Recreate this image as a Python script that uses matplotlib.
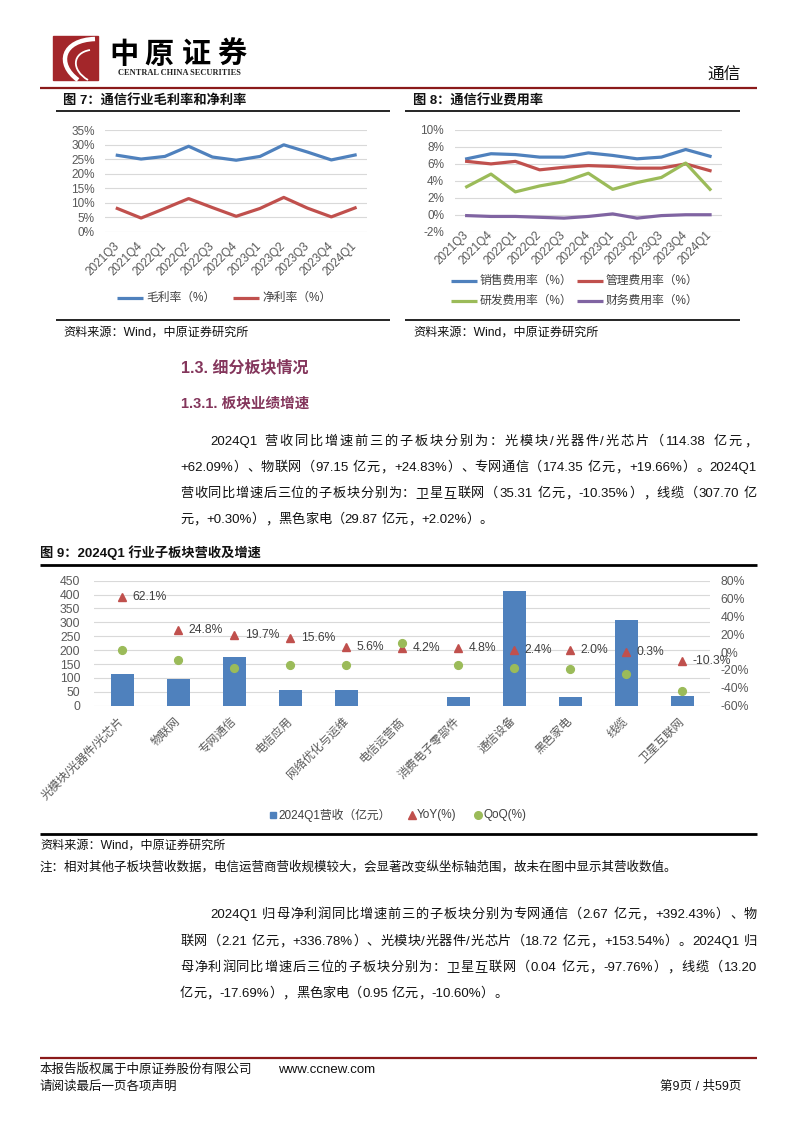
import numpy as np
import matplotlib
matplotlib.use('Agg')
import matplotlib.pyplot as plt
from matplotlib.font_manager import FontProperties
from matplotlib.path import Path
from matplotlib.patches import PathPatch, Rectangle

W, H = 794, 1123
LATIN, HAN = 'Liberation Sans', 'Noto Sans CJK SC'
plt.rcParams['font.family'] = [LATIN, HAN]

BLUE, RED, GREEN, PURPLE = '#4F81BD', '#C0504D', '#9BBB59', '#8064A2'
GRID, TICK, INK = '#D9D9D9', '#595959', '#111111'
MAROON, PLUM = '#8B1A1A', '#84365C'

# 图7 / 图8 数据
quarters = ['2021Q3', '2021Q4', '2022Q1', '2022Q2', '2022Q3', '2022Q4',
            '2023Q1', '2023Q2', '2023Q3', '2023Q4', '2024Q1']
gross_margin = [26.3, 25.0, 25.9, 29.4, 25.7, 24.6, 25.9, 29.9, 27.4, 24.7, 26.4]
net_margin = [8.0, 4.7, 8.0, 11.4, 8.3, 5.3, 8.0, 11.8, 8.1, 5.1, 8.2]

sales_rate = [6.6, 7.2, 7.1, 6.8, 6.8, 7.3, 7.0, 6.6, 6.8, 7.7, 6.9]
admin_rate = [6.3, 6.0, 6.3, 5.3, 5.6, 5.8, 5.7, 5.5, 5.5, 6.0, 5.2]
rd_rate = [3.3, 4.8, 2.7, 3.4, 3.9, 4.9, 3.0, 3.8, 4.4, 6.1, 3.0]
fin_rate = [-0.1, -0.2, -0.2, -0.3, -0.4, -0.2, 0.1, -0.4, -0.1, 0.0, 0.0]

# 图9 数据
sectors = ['光模块/光器件/光芯片', '物联网', '专网通信', '电信应用', '网络优化与运维',
           '电信运营商', '消费电子零部件', '通信设备', '黑色家电', '线缆', '卫星互联网']
revenue = [114.38, 97.15, 174.35, 58, 55, np.nan, 30, 413, 29.87, 307.70, 35.31]
yoy = [62.1, 24.8, 19.7, 15.6, 5.6, 4.2, 4.8, 2.4, 2.0, 0.3, -10.3]
qoq = [2.0, -8.5, -18.0, -14.0, -14.0, 10.0, -14.0, -18.0, -19.0, -24.5, -43.0]

para1 = [
    "2024Q1 营收同比增速前三的子板块分别为：光模块/光器件/光芯片（114.38 亿元，",
    "+62.09%）、物联网（97.15 亿元，+24.83%）、专网通信（174.35 亿元，+19.66%）。2024Q1",
    "营收同比增速后三位的子板块分别为：卫星互联网（35.31 亿元，-10.35%），线缆（307.70 亿",
    "元，+0.30%），黑色家电（29.87 亿元，+2.02%）。",
]
para2 = [
    "2024Q1 归母净利润同比增速前三的子板块分别为专网通信（2.67 亿元，+392.43%）、物",
    "联网（2.21 亿元，+336.78%）、光模块/光器件/光芯片（18.72 亿元，+153.54%）。2024Q1 归",
    "母净利润同比增速后三位的子板块分别为：卫星互联网（0.04 亿元，-97.76%），线缆（13.20",
    "亿元，-17.69%），黑色家电（0.95 亿元，-10.60%）。",
]

fig = plt.figure(figsize=(W / 100, H / 100), dpi=100)
page = fig.add_axes([0, 0, 1, 1])
page.set_xlim(0, W)
page.set_ylim(H, 0)
page.axis('off')
renderer = fig.canvas.get_renderer()


def box(l, t, r, b):
    return [l / W, 1 - b / H, (r - l) / W, (b - t) / H]


def hline(y, x0, x1, lw=1.0, color='black'):
    page.plot([x0, x1], [y, y], color=color, lw=lw, solid_capstyle='butt')


def txt(x, y, s, size=9, **kw):
    kw.setdefault('va', 'center')
    kw.setdefault('color', INK)
    page.text(x, y, s, fontsize=size, **kw)


# 两端对齐的正文行：用 "|c|" 与 "||" 的宽度差得到每个字的步进
def text_width(s, prop):
    return renderer.get_text_width_height_descent(s, prop, ismath=False)[0]


def body_line(x0, y, s, x1=None, size=9.5):
    prop = FontProperties(family=[LATIN, HAN], size=size)
    bar = text_width('||', prop)
    adv = [text_width('|' + c + '|', prop) - bar for c in s]
    base = y + 0.38 * size * 100 / 72
    brk = {i for i in range(len(s) - 1)
           if not (s[i].isascii() and s[i + 1].isascii()) or ' ' in s[i:i + 2]}
    extra = (x1 - x0 - sum(adv)) / len(brk) if x1 else 0
    x, run, rx = x0, '', x0
    for i, c in enumerate(s):
        if c != ' ':
            if not run:
                rx = x
            run += c
        x += adv[i]
        if i in brk or i == len(s) - 1:
            if run:
                page.text(rx, base, run, fontsize=size, va='baseline', ha='left', color=INK)
            run = ''
            if i in brk:
                x += extra


# 页眉
page.add_patch(Rectangle((53, 36), 45, 44, color='#A3262A'))
swoosh = Path([(95, 39), (62, 40), (56, 64), (78, 80)],
              [Path.MOVETO, Path.CURVE4, Path.CURVE4, Path.CURVE4])
page.add_patch(PathPatch(swoosh, fc='none', ec='white', lw=3.2))
inner = Path([(90, 50), (72, 53), (71, 70), (88, 80)],
             [Path.MOVETO, Path.CURVE4, Path.CURVE4, Path.CURVE4])
page.add_patch(PathPatch(inner, fc='none', ec='white', lw=1.3))
for cx, ch in zip([124, 159, 196, 232], '中原证券'):
    txt(cx, 54, ch, 21, ha='center', family=HAN, weight='heavy', color='black')
txt(179, 73, 'CENTRAL CHINA SECURITIES', 6, ha='center', family='Liberation Serif',
    weight='bold', color='#222222')
txt(741, 75, '通信', 12, ha='right')
hline(88, 40, 757, 1.6, MAROON)


# 折线图
def trend_chart(rect, series, colors, ylim, step, xpad):
    ax = fig.add_axes(box(*rect))
    x = np.arange(len(quarters))
    for vals, c in zip(series, colors):
        ax.plot(x, vals, color=c, lw=2.3)
    ax.set_xlim(-0.5, len(quarters) - 0.5)
    ax.set_ylim(*ylim)
    ticks = np.arange(ylim[0], ylim[1] + 1, step)
    ax.set_yticks(ticks, [f'{t}%' for t in ticks])
    ax.set_xticks(x, quarters, rotation=45, ha='right', va='center',
                  rotation_mode='anchor')
    ax.tick_params(length=0, labelsize=8.5, labelcolor=TICK, pad=7.5)
    ax.tick_params(axis='x', pad=xpad)
    ax.grid(axis='y', color=GRID, lw=0.8)
    ax.set_axisbelow(True)
    for sp in ax.spines.values():
        sp.set_visible(False)
    return ax


def legend_item(x, y, color, label):
    page.plot([x, x + 26], [y, y], color=color, lw=2.3, solid_capstyle='butt')
    txt(x + 29, y, label, 8.5, color='#404040')


# 图7
txt(63, 101, '图 7：通信行业毛利率和净利率', 9.5, weight='bold')
hline(111, 56, 390, 1.2)
trend_chart((105.4, 130, 367, 231.7), [gross_margin, net_margin], [BLUE, RED], (0, 35), 5, 9)
legend_item(117, 298, BLUE, '毛利率（%）')
legend_item(233, 298, RED, '净利率（%）')
hline(320, 56, 390, 1.2)
txt(63, 333, '资料来源：Wind，中原证券研究所', 8.7)

# 图8
txt(413, 101, '图 8：通信行业费用率', 9.5, weight='bold')
hline(111, 405, 740, 1.2)
trend_chart((454.5, 130, 722.2, 231.7), [sales_rate, admin_rate, rd_rate, fin_rate],
            [BLUE, RED, GREEN, PURPLE], (-2, 10), 2, 1)
legend_item(451, 281, BLUE, '销售费用率（%）')
legend_item(577, 281, RED, '管理费用率（%）')
legend_item(451, 301, GREEN, '研发费用率（%）')
legend_item(577, 301, PURPLE, '财务费用率（%）')
hline(320, 405, 740, 1.2)
txt(413, 333, '资料来源：Wind，中原证券研究所', 8.7)

# 正文一
txt(181, 367, '1.3. 细分板块情况', 11.5, weight='bold', color=PLUM)
txt(181, 403, '1.3.1. 板块业绩增速', 10.5, weight='bold', color=PLUM)
for i, (y, line) in enumerate(zip([440, 466, 492, 518], para1)):
    body_line(210 if i == 0 else 180, y, line, None if i == 3 else 757)

# 图9
txt(40, 553, '图 9：2024Q1 行业子板块营收及增速', 9.5, weight='bold')
hline(565, 40, 757, 2.0)
ax9 = fig.add_axes(box(94.3, 580.7, 710.3, 705.7))
x9 = np.arange(len(sectors))
ax9.bar(x9, revenue, width=0.41, color=BLUE)
ax9.set_xlim(-0.5, len(sectors) - 0.5)
ax9.set_ylim(0, 450)
ax9.set_yticks(np.arange(0, 451, 50))
ax9.set_xticks(x9, sectors, rotation=45, ha='right', va='center', rotation_mode='anchor')
ax9.tick_params(length=0, labelsize=8.8, labelcolor=TICK)
ax9.tick_params(axis='y', pad=10)
ax9.tick_params(axis='x', pad=10, labelsize=8.4)
ax9.grid(axis='y', color=GRID, lw=0.8)
ax9.set_axisbelow(True)
ax9r = ax9.twinx()
ax9r.set_ylim(-60, 80)
rt = np.arange(-60, 81, 20)
ax9r.set_yticks(rt, [f'{t}%' for t in rt])
ax9r.tick_params(length=0, labelsize=8.8, labelcolor=TICK, pad=7.5)
ax9r.plot(x9, yoy, ls='none', marker='^', color=RED, ms=6)
ax9r.plot(x9, qoq, ls='none', marker='o', color=GREEN, ms=5.6)
for xi, v in zip(x9, yoy):
    ax9r.annotate(f'{v:.1f}%', (xi, v), xytext=(7.5, 0), textcoords='offset points',
                  va='center', fontsize=8.7, color='#404040')
for a in (ax9, ax9r):
    for sp in a.spines.values():
        sp.set_visible(False)

page.plot([273], [815], marker='s', ms=5, color=BLUE)
txt(278, 815, '2024Q1营收（亿元）', 8.5, color='#404040')
page.plot([412], [815], marker='^', ms=5.5, color=RED)
txt(417, 815, 'YoY(%)', 8.5, color='#404040')
page.plot([478], [815], marker='o', ms=5.5, color=GREEN)
txt(484, 815, 'QoQ(%)', 8.5, color='#404040')
hline(834, 40, 757, 2.0)
txt(40, 846, '资料来源：Wind，中原证券研究所', 8.7)
txt(40, 867, '注：相对其他子板块营收数据，电信运营商营收规模较大，会显著改变纵坐标轴范围，故未在图中显示其营收数值。', 9)

# 正文二
for i, (y, line) in enumerate(zip([913, 940, 966, 992], para2)):
    body_line(210 if i == 0 else 180, y, line, None if i == 3 else 757)

# 页脚
hline(1058, 40, 757, 1.6, MAROON)
txt(40, 1070, '本报告版权属于中原证券股份有限公司', 9)
txt(278, 1070, 'www.ccnew.com', 9.5)
txt(40, 1087, '请阅读最后一页各项声明', 9)
txt(741, 1087, '第9页 / 共59页', 9, ha='right')

fig.savefig('out.png', dpi=100)
